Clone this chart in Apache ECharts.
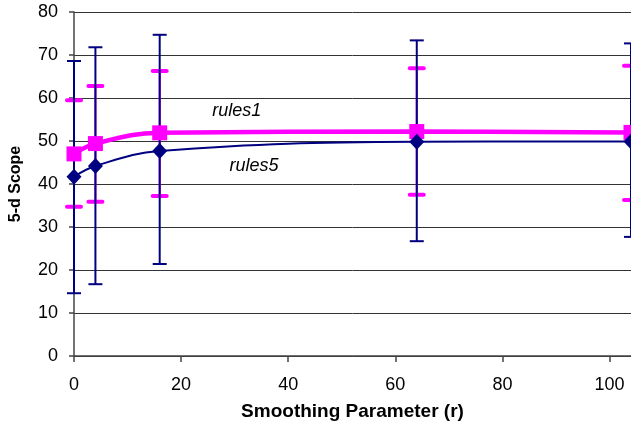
<!DOCTYPE html>
<html>
<head>
<meta charset="utf-8">
<script src="https://cdn.jsdelivr.net/npm/echarts@6/dist/echarts.min.js"></script>
<style>html,body{margin:0;padding:0;background:#fff;}#c{width:631px;height:432px;}</style>
</head>
<body>
<div id="c"></div>
<script>
var xValues = [0, 4, 16, 64, 104];
var rules1 = [47.0, 49.4, 51.9, 52.2, 52.0];
var rules1Low = [34.7, 35.9, 37.2, 37.5, 36.3];
var rules1High = [59.5, 62.8, 66.3, 66.9, 67.5];
var rules5 = [41.7, 44.2, 47.7, 49.8, 49.9];
var rules5Low = [14.6, 16.7, 21.4, 26.7, 27.7];
var rules5High = [68.6, 71.8, 74.7, 73.4, 72.7];
var xTicks = [0, 20, 40, 60, 80, 100];
var yTicks = [0, 10, 20, 30, 40, 50, 60, 70, 80];

function pairs(ys) { return xValues.map(function (x, i) { return [x, ys[i]]; }); }
function errData(lo, hi) { return xValues.map(function (x, i) { return [x, lo[i], hi[i]]; }); }
function errRender(color, vw, capW, cw, round) {
  return function (params, api) {
    var x = api.value(0), lo = api.value(1), hi = api.value(2);
    var a = api.coord([x, lo]), b = api.coord([x, hi]);
    var cap = round ? 'round' : 'butt';
    return {
      type: 'group',
      children: [
        { type: 'line', shape: { x1: a[0], y1: a[1], x2: b[0], y2: b[1] }, style: { stroke: color, lineWidth: vw } },
        { type: 'line', shape: { x1: b[0] - capW / 2, y1: b[1], x2: b[0] + capW / 2, y2: b[1] }, style: { stroke: color, lineWidth: cw, lineCap: cap } },
        { type: 'line', shape: { x1: a[0] - capW / 2, y1: a[1], x2: a[0] + capW / 2, y2: a[1] }, style: { stroke: color, lineWidth: cw, lineCap: cap } }
      ]
    };
  };
}

var font = "'Liberation Sans', Arial, sans-serif";
var chart = echarts.init(document.getElementById('c'), null, { renderer: 'canvas' });
chart.setOption({
  animation: false,
  backgroundColor: '#fff',
  grid: { left: 74, right: -1, top: 12, bottom: 76 },
  xAxis: {
    type: 'value', min: 0, max: 104, interval: 20,
    name: 'Smoothing Parameter (r)', nameLocation: 'middle', nameGap: 46,
    nameTextStyle: { fontFamily: font, fontWeight: 'bold', fontSize: 19, color: '#000' },
    axisLine: { lineStyle: { color: '#444', width: 1.5 } },
    axisTick: { show: true, length: 6, lineStyle: { color: '#444', width: 1.5 }, customValues: xTicks },
    axisLabel: { fontFamily: font, fontSize: 18, color: '#000', margin: 20, customValues: xTicks,
      formatter: function (v) { return xTicks.indexOf(v) >= 0 ? String(v) : ''; } },
    splitLine: { show: false }
  },
  yAxis: {
    type: 'value', min: 0, max: 80, interval: 10,
    name: '5-d Scope', nameLocation: 'middle', nameGap: 50,
    nameTextStyle: { fontFamily: font, fontWeight: 'bold', fontSize: 16, color: '#000' },
    axisLine: { show: true, lineStyle: { color: '#444', width: 1.5 } },
    axisTick: { show: true, length: 5, lineStyle: { color: '#444', width: 1.5 } },
    axisLabel: { fontFamily: font, fontSize: 18, color: '#000', margin: 16,
      formatter: function (v) { return yTicks.indexOf(v) >= 0 ? String(v) : ''; } },
    splitLine: { show: true, lineStyle: { color: '#333', width: 1 } }
  },
  series: [
    { type: 'custom', name: 'rules1 err', data: errData(rules1Low, rules1High), renderItem: errRender('#FF00FF', 2, 14, 4, true), z: 2, clip: false },
    { type: 'custom', name: 'rules5 err', data: errData(rules5Low, rules5High), renderItem: errRender('#000080', 2, 14, 2, false), z: 3, clip: false },
    { type: 'line', name: 'rules1', data: pairs(rules1), smooth: 0.4, symbol: 'rect', symbolSize: 15,
      lineStyle: { color: '#FF00FF', width: 4.5 }, itemStyle: { color: '#FF00FF' }, z: 4,
      markPoint: { symbol: 'circle', symbolSize: 0, data: [{ coord: [30.4, 57.0] }],
        label: { show: true, position: 'inside', formatter: 'rules1', fontFamily: font, fontStyle: 'italic', fontSize: 18, color: '#000' } } },
    { type: 'line', name: 'rules5', data: pairs(rules5), smooth: 0.4, symbol: 'diamond', symbolSize: [15, 16],
      lineStyle: { color: '#000080', width: 2 }, itemStyle: { color: '#000080' }, z: 5,
      markPoint: { symbol: 'circle', symbolSize: 0, data: [{ coord: [33.6, 44.2] }],
        label: { show: true, position: 'inside', formatter: 'rules5', fontFamily: font, fontStyle: 'italic', fontSize: 18, color: '#000' } } }
  ]
});
</script>
</body>
</html>
